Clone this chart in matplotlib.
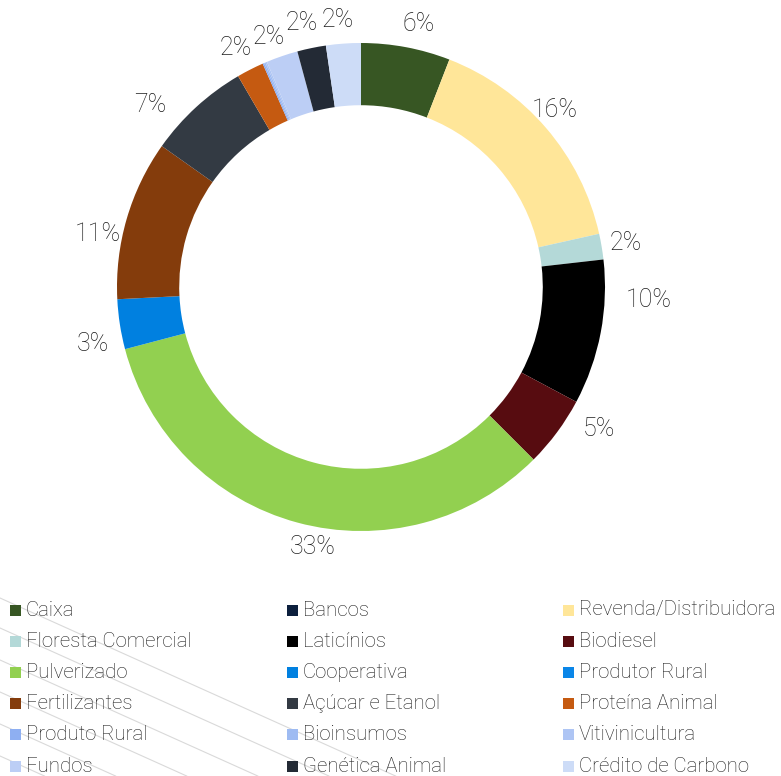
import numpy as np
import matplotlib
matplotlib.use('Agg')
import matplotlib.pyplot as plt
from matplotlib.patches import Rectangle
from matplotlib.lines import Line2D

plt.rcParams['font.family'] = ['Roboto', 'DejaVu Sans']
plt.rcParams['font.weight'] = 'light'

######### Data (% of portfolio) #########
categories = ['Caixa', 'Bancos', 'Revenda/Distribuidora',
              'Floresta Comercial', 'Laticínios', 'Biodiesel',
              'Pulverizado', 'Cooperativa', 'Produtor Rural',
              'Fertilizantes', 'Açúcar e Etanol', 'Proteína Animal',
              'Produto Rural', 'Bioinsumos', 'Vitivinicultura',
              'Fundos', 'Genética Animal', 'Crédito de Carbono']
shares = [5.9, 0.0, 15.6,
          1.7, 9.6, 4.7,
          33.4, 3.3, 0.0,
          10.6, 6.8, 1.8,
          0.1, 0.1, 0.1,
          2.1, 1.9, 2.3]
colors = ['#375623', '#0c1f3d', '#ffe699',
          '#b4d9d8', '#000000', '#570c10',
          '#92d050', '#0080e0', '#0a86e8',
          '#843c0c', '#333a43', '#c55a11',
          '#8eaff2', '#9ebbf2', '#aec5f4',
          '#bccef5', '#232a35', '#cddcf7']

TEXT = '#1e1e1e'
W, H = 781, 776

fig = plt.figure(figsize=(W / 100, H / 100), dpi=100)

# background decoration (thin grey diagonals, bottom left)
for y0 in [598, 628, 660, 692, 724, 756]:
    x1 = min((H - y0) / 0.45, 400)
    y1 = y0 + 0.45 * x1
    fig.add_artist(Line2D([0, x1 / W], [1 - y0 / H, 1 - y1 / H],
                          transform=fig.transFigure,
                          color='#d9d9d9', linewidth=0.8, zorder=0))

############################# Donut
cx, cy, R = 361, 287, 244
ax = fig.add_axes([(cx - R) / W, (H - cy - R) / H, 2 * R / W, 2 * R / H])
wedges, _ = ax.pie(shares,
                   colors=colors,
                   startangle=90,
                   counterclock=False,
                   radius=1,
                   wedgeprops=dict(width=0.255, linewidth=0))
ax.set_xlim(-1, 1)
ax.set_ylim(-1, 1)
ax.axis('off')

# label nudges in pixels (x right, y down): Excel's best-fit placement
nudge = {'Caixa': (8, 1), 'Revenda/Distribuidora': (-10, -2),
         'Laticínios': (24, -37), 'Biodiesel': (22, -18),
         'Pulverizado': (22, 1), 'Cooperativa': (-3, 16),
         'Fertilizantes': (-5, 22), 'Açúcar e Etanol': (-30, 16),
         'Proteína Animal': (-3, 0), 'Fundos': (-5, 4),
         'Genética Animal': (-5, -1), 'Crédito de Carbono': (-4, 1)}

for name, v, w in zip(categories, shares, wedges):
    if v < 1.5:
        continue
    mid = np.deg2rad((w.theta1 + w.theta2) / 2)
    x = 1.1 * np.cos(mid)
    y = 1.1 * np.sin(mid)
    dx, dy = nudge.get(name, (0, 0))
    ax.text(x + dx / R, y - dy / R, '%d%%' % round(v),
            ha='center', va='center',
            fontsize=18, color=TEXT)

############################# Legend (3 columns, row-major)
col_x = [10, 287, 563]
for i, name in enumerate(categories):
    row, col = divmod(i, 3)
    yc = 610 + row * 31.2
    fig.add_artist(Rectangle((col_x[col] / W, 1 - (yc + 5.5) / H),
                             11 / W, 11 / H,
                             transform=fig.transFigure,
                             facecolor=colors[i], linewidth=0))
    fig.text((col_x[col] + 16) / W, 1 - yc / H, name,
             ha='left', va='center', fontsize=14.7, color=TEXT)

plt.savefig('out.png', dpi=100, facecolor='white')
